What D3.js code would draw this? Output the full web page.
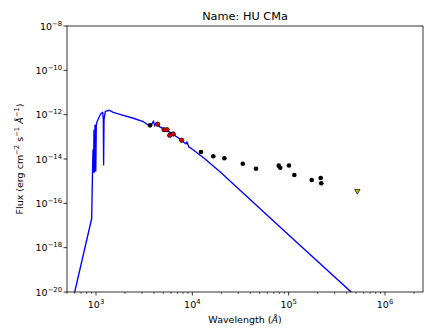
<!DOCTYPE html>
<html><head><meta charset="utf-8">
<script src="https://cdn.jsdelivr.net/npm/d3@7"></script>
<style>body{margin:0;background:#fff}svg{display:block}text{font-family:"DejaVu Sans",sans-serif;fill:#000}</style>
</head><body><svg id="c" width="433" height="329"></svg>
<script>
// Model SED (wavelength in Å, flux in erg cm^-2 s^-1 Å^-1)
const modelWave = [560, 601, 902, 920, 931, 942, 953, 965, 977, 995, 1007, 1024, 1066, 1127, 1174, 1191, 1200, 1211, 1249, 1375, 1512, 1775, 2440, 3100, 3490, 3810, 3950, 4050, 4200, 4610, 5860, 7450, 8590, 8800, 9200, 9930, 13550, 19360, 87900, 440000, 520000];
const modelFlux = [3.0e-21, 1.0e-20, 2.07e-17, 2.6e-15, 2.55e-14, 2.6e-15, 2.0e-13, 2.6e-15, 3.4e-13, 2.9e-15, 3.4e-13, 4.7e-13, 7.1e-13, 1.13e-12, 1.28e-12, 5.8e-13, 5.4e-15, 5.8e-13, 1.42e-12, 1.58e-12, 1.28e-12, 1.04e-12, 6.9e-13, 4.8e-13, 3.4e-13, 3.8e-13, 5.2e-13, 3.1e-13, 4.2e-13, 2.8e-13, 1.58e-13, 8.0e-14, 4.8e-14, 5.9e-14, 3.5e-14, 2.83e-14, 1.0e-14, 2.68e-15, 6.3e-18, 1.04e-20, 5.0e-21];
// Photometry (black)
const photWave = [3640, 12300, 16500, 21500, 33400, 45800, 78900, 81800, 100700, 114500, 173500, 215000, 218000];
const photFlux = [3.3e-13, 2.07e-14, 1.33e-14, 1.08e-14, 6.15e-15, 3.66e-15, 5.0e-15, 4.06e-15, 5.1e-15, 1.9e-15, 1.13e-15, 1.39e-15, 8.0e-16];
// Photometry (red)
const redWave = [4365, 5080, 5460, 5820, 6340, 7760];
const redFlux = [3.7e-13, 2.1e-13, 2.1e-13, 1.17e-13, 1.35e-13, 7.0e-14];
// Upper limit
const limWave = [516000];
const limFlux = [3.6e-16];
const yTickExp = [-20, -18, -16, -14, -12, -10, -8];
const xTickExp = [3, 4, 5, 6];

const svg = d3.select("#c");
const L = 67, R = 423, T = 26, B = 292;
const x = d3.scaleLog().domain([500, 2.48e6]).range([L, R]);
const y = d3.scaleLog().domain([1e-20, 1e-8]).range([B, T]);

svg.append("clipPath").attr("id", "clip").append("rect")
  .attr("x", L).attr("y", T).attr("width", R - L).attr("height", B - T);

const line = d3.line().x(d => x(d[0])).y(d => y(d[1]));
svg.append("path").datum(modelWave.map((w, i) => [w, modelFlux[i]]))
  .attr("d", line).attr("fill", "none").attr("stroke", "#0000ff")
  .attr("stroke-width", 1.35).attr("stroke-linejoin", "round")
  .attr("clip-path", "url(#clip)");

svg.append("g").selectAll("circle").data(photWave.map((w, i) => [w, photFlux[i]]))
  .join("circle").attr("cx", d => x(d[0])).attr("cy", d => y(d[1])).attr("r", 2.3)
  .attr("fill", "#000");
svg.append("g").selectAll("circle").data(redWave.map((w, i) => [w, redFlux[i]]))
  .join("circle").attr("cx", d => x(d[0])).attr("cy", d => y(d[1])).attr("r", 2.2)
  .attr("fill", "#e00000").attr("stroke", "#000").attr("stroke-width", 0.7);
svg.append("g").selectAll("path").data(limWave.map((w, i) => [w, limFlux[i]]))
  .join("path")
  .attr("d", d3.symbol(d3.symbolTriangle, 13)).attr("transform", d => `translate(${x(d[0])},${y(d[1])}) rotate(180)`)
  .attr("fill", "#bfbf00").attr("stroke", "#000").attr("stroke-width", 0.7);

// frame
svg.append("rect").attr("x", L).attr("y", T).attr("width", R - L).attr("height", B - T)
  .attr("fill", "none").attr("stroke", "#000").attr("stroke-width", 0.8);

// x ticks
const gx = svg.append("g");
const minors = [];
for (let e = 2; e <= 6; e++) for (let m = 2; m <= 9; m++) { const v = m * Math.pow(10, e); if (v >= 500 && v <= 2.48e6) minors.push(v); }
gx.selectAll("line.mi").data(minors).join("line").attr("x1", d => x(d)).attr("x2", d => x(d))
  .attr("y1", B).attr("y2", B + 2).attr("stroke", "#000").attr("stroke-width", 0.6);
gx.selectAll("line.ma").data(xTickExp).join("line").attr("x1", d => x(Math.pow(10, d))).attr("x2", d => x(Math.pow(10, d)))
  .attr("y1", B).attr("y2", B + 3.5).attr("stroke", "#000").attr("stroke-width", 0.8);
const xt = gx.selectAll("text").data(xTickExp).join("text")
  .attr("x", d => x(Math.pow(10, d))).attr("y", B + 16).attr("text-anchor", "middle").attr("font-size", 9.5);
xt.append("tspan").text("10");
xt.append("tspan").attr("dy", -4).attr("font-size", 6.8).text(d => String(d));

// y ticks
const gy = svg.append("g");
gy.selectAll("line").data(yTickExp).join("line").attr("x1", L - 3.5).attr("x2", L)
  .attr("y1", d => y(Math.pow(10, d))).attr("y2", d => y(Math.pow(10, d))).attr("stroke", "#000").attr("stroke-width", 0.8);
const yt = gy.selectAll("text").data(yTickExp).join("text")
  .attr("x", L - 5).attr("y", d => y(Math.pow(10, d)) + 3.5).attr("text-anchor", "end").attr("font-size", 9.5);
yt.append("tspan").text("10");
yt.append("tspan").attr("dy", -4).attr("font-size", 6.8).text(d => "\u2212" + Math.abs(d));

// title
svg.append("text").attr("x", (L + R) / 2).attr("y", 20).attr("text-anchor", "middle").attr("font-size", 11.3).text("Name: HU CMa");

// x label
const xl = svg.append("text").attr("x", (L + R) / 2).attr("y", 323).attr("text-anchor", "middle").attr("font-size", 9.5);
xl.append("tspan").text("Wavelength (");
xl.append("tspan").attr("font-style", "italic").text("Å");
xl.append("tspan").text(")");

// y label
const yl = svg.append("text").attr("transform", `translate(23,${(T + B) / 2}) rotate(-90)`).attr("text-anchor", "middle").attr("font-size", 9.5);
yl.append("tspan").text("Flux (erg cm");
yl.append("tspan").attr("dy", -4).attr("font-size", 6.8).text("\u22122");
yl.append("tspan").attr("dy", 4).text(" s");
yl.append("tspan").attr("dy", -4).attr("font-size", 6.8).text("\u22121");
yl.append("tspan").attr("dy", 4).text(" ");
yl.append("tspan").attr("font-style", "italic").text("Å");
yl.append("tspan").attr("dy", -4).attr("font-size", 6.8).text("\u22121");
yl.append("tspan").attr("dy", 4).text(")");
</script></body></html>
